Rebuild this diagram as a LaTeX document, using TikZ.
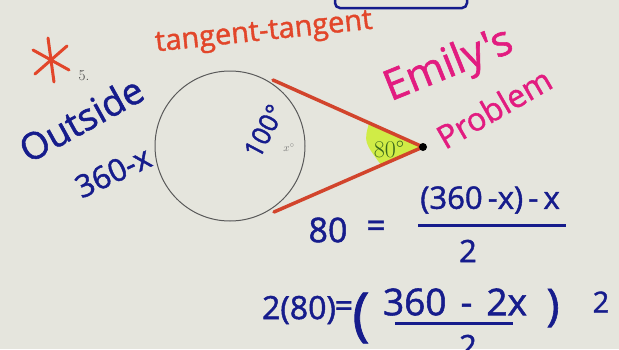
\documentclass[tikz,border=0pt]{standalone}
\usepackage{fontspec}
\newfontfamily\hand{Open Sans}[FakeBold=1.4]
\usetikzlibrary{calc}
\definecolor{board}{RGB}{229,229,221}
\definecolor{navy}{RGB}{22,28,140}
\definecolor{redink}{RGB}{226,70,42}
\definecolor{redline}{RGB}{210,68,44}
\definecolor{magink}{RGB}{226,28,128}
\definecolor{greenink}{RGB}{58,104,28}
\definecolor{hl}{RGB}{208,236,70}
\tikzset{
  ink/.style={inner sep=0pt},
  fs/.style={font=\hand\fontsize{#1}{#1}\selectfont},
  blueink/.style={ink, text=navy},
  seg/.style={redline, line width=3.5pt, line cap=round},
}
\begin{document}
\begin{tikzpicture}[x=1pt,y=-1pt]
\useasboundingbox (0,0) rectangle (619,349);
\fill[board] (0,0) rectangle (619,349);
\clip (0,0) rectangle (619,349);
% top box
\draw[navy, line width=2.5pt, rounded corners=5pt] (335,-20) rectangle (467,8);
% asterisk
\coordinate (ast) at (51,60);
\draw[redink, line width=3pt, line cap=round] ($(ast)+(-3,-22)$) -- ($(ast)+(3,22)$);
\draw[redink, line width=3pt, line cap=round] ($(ast)+(-18,-10)$) -- ($(ast)+(18,10)$);
\draw[redink, line width=3pt, line cap=round] ($(ast)+(-16,14)$) -- ($(ast)+(16,-14)$);
\node[inner sep=0pt, text=black!75, font=\fontsize{15}{15}\selectfont] (five) at (84,76) {5.};
% labels
\node[ink, text=redink, fs=29, rotate=6] (tt) at (264,34) {tangent-tangent};
\node[blueink, fs=37, rotate=29] (out) at (81,119) {Outside};
\node[blueink, fs=31, rotate=25] (sx) at (113,172) {360-x};
% circle
\node[draw=black!65, line width=1pt, circle, minimum size=150pt, inner sep=0pt] (C) at (230,146) {};
\node[blueink, fs=26, rotate=62] (hund) at (264,131) {100°};
\node[inner sep=0pt, text=black!55, font=\fontsize{11}{11}\selectfont] (xdeg) at (289,148) {$x^\circ$};
% tangents
\coordinate (T1) at (273,80);
\coordinate (T2) at (274,212);
\coordinate (A) at (423,147);
\fill[hl] (A) -- ($(A)!0.36!(T1)$) .. controls (364,142) .. ($(A)!0.28!(T2)$) -- cycle;
\draw[seg] (T1) -- (A);
\draw[seg] (T2) -- (A);
\node[circle, fill=black, minimum size=8pt, inner sep=0pt] (apex) at (A) {};
\node[inner sep=0pt, text=greenink, font=\fontsize{24}{24}\selectfont] (eighty) at (389,149) {80°};
% Emily's Problem
\node[ink, text=magink, fs=42, rotate=22] (emily) at (449,66) {Emily's};
\node[ink, text=magink, fs=32, rotate=30] (prob) at (494,108) {Problem};
% equation 1
\node[blueink, fs=34] (e1l) at (328,230) {80};
\node[blueink, fs=34] (e1eq) at (376,229) {=};
\node[blueink, fs=31] (e1n) at (490,200) {(360\,-x)\,-\,x};
\draw[navy, line width=3pt] ($(e1n.south west)+(-2,12)$) coordinate (b1) -- ($(e1n.south east)+(6,12)$) coordinate (b2);
\node[blueink, fs=31] (e1d) at (468,251) {2};
% equation 2
\node[blueink, fs=32] (e2l) at (299,310) {2(80)};
\node[blueink, fs=32] (e2eq) at (344,309) {=};
\node[blueink, fs=58] (lp) at (361,318) {(};
\node[blueink, fs=37] (e2n) at (455,302) {360\hspace{14pt}-\hspace{14pt}2x};
\draw[navy, line width=3pt] ($(e2n.south west)+(12,8)$) -- ($(e2n.south east)+(-14,8)$);
\node[blueink, fs=31] (e2d) at (468,346) {2};
\node[blueink, fs=44] (rp) at (553,308) {)};
\node[blueink, fs=29] (sq) at (601,302) {2};
\end{tikzpicture}
\end{document}
